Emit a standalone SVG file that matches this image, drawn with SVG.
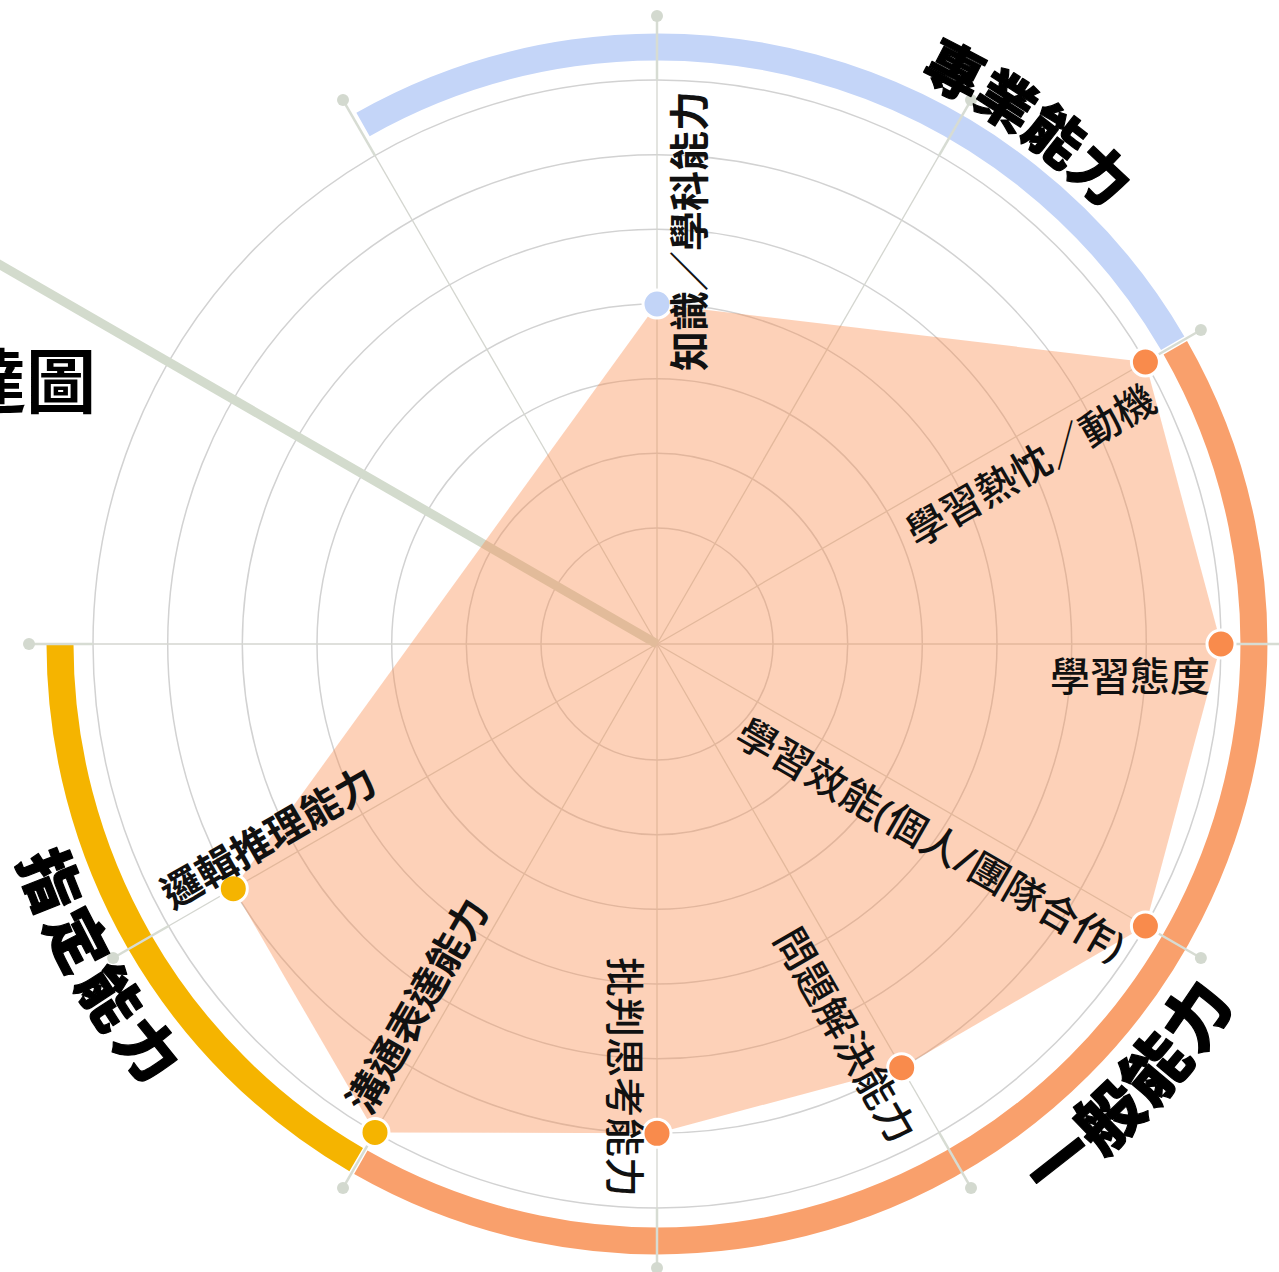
<svg xmlns="http://www.w3.org/2000/svg" width="1279" height="1272" viewBox="0 0 1279 1272">
<style>
.ring{fill:none;stroke:#d2d2d2;stroke-width:1.5}
.spoke{stroke:#d4d6d0;stroke-width:1.3}
.ext{stroke:#d7dcd3;stroke-width:2.5}
.end{fill:#d3d9cf}
.band{fill:none;stroke-width:27}
.dot{stroke:#ffffff;stroke-width:3}
.lbl{font-family:"Noto Sans","Noto Sans CJK TC","Noto Sans CJK SC",sans-serif;font-size:40px;fill:#111111}
.cat{font-family:"Noto Sans CJK TC","Noto Sans CJK SC",sans-serif;font-weight:900;fill:#000000;stroke:#000000;stroke-width:1.2;stroke-linejoin:round}
</style>
<defs>
<path id="p-zy" d="M 657 20 A 624 624 0 0 1 1281 644"/>
<path id="p-zd" d="M -17.1 644 A 674.1 674.1 0 0 0 657 1318.1"/>
<path id="p-yb" d="M 657 1323.1 A 679.1 679.1 0 0 0 1336.1 644"/>
</defs>
<rect width="1279" height="1272" fill="#ffffff"/>
<g id="grid">
<circle class="ring" cx="657" cy="644" r="116"/>
<circle class="ring" cx="657" cy="644" r="190.7"/>
<circle class="ring" cx="657" cy="644" r="265.3"/>
<circle class="ring" cx="657" cy="644" r="340"/>
<circle class="ring" cx="657" cy="644" r="414.7"/>
<circle class="ring" cx="657" cy="644" r="489.3"/>
<circle class="ring" cx="657" cy="644" r="564"/>
</g>
<g id="connectors">
<g id="spokes">
<line class="spoke" x1="657" y1="644" x2="657" y2="80"/>
<line class="spoke" x1="657" y1="644" x2="939" y2="155.6"/>
<line class="spoke" x1="657" y1="644" x2="1145.4" y2="362"/>
<line class="spoke" x1="657" y1="644" x2="1221" y2="644"/>
<line class="spoke" x1="657" y1="644" x2="1145.4" y2="926"/>
<line class="spoke" x1="657" y1="644" x2="939" y2="1132.4"/>
<line class="spoke" x1="657" y1="644" x2="657" y2="1208"/>
<line class="spoke" x1="657" y1="644" x2="375" y2="1132.4"/>
<line class="spoke" x1="657" y1="644" x2="168.6" y2="926"/>
<line class="spoke" x1="657" y1="644" x2="93" y2="644"/>
<line class="spoke" x1="657" y1="644" x2="168.6" y2="362"/>
<line class="spoke" x1="657" y1="644" x2="375" y2="155.6"/>
</g>
<line id="pointer" x1="657" y1="644" x2="-36" y2="244" stroke="#d3dbcd" stroke-width="9"/>
</g>
<g id="area">
<polygon points="657,304 1145.4,362 1221,644 1145.4,926 901.7,1067.7 657,1133.3 375,1132.4 233.3,888.7" fill="#f98c4e" fill-opacity="0.4"/>
</g>
<g id="bands">
<path id="band-zy" class="band" stroke="#c4d5f8" d="M 363 124.4 A 597 597 0 0 1 1172.7 343.2"/>
<path id="band-yb" class="band" stroke="#f9a06c" d="M 1175.3 347.8 A 597 597 0 0 1 360.8 1162.3"/>
<path id="band-zd" class="band" stroke="#f5b400" d="M 356.2 1159.7 A 597 597 0 0 1 60 644"/>
</g>
<g id="axis-ends">
<line class="ext" x1="657" y1="80" x2="657" y2="16"/>
<line class="ext" x1="939" y1="155.6" x2="971" y2="100.1"/>
<line class="ext" x1="1145.4" y1="362" x2="1200.9" y2="330"/>
<line class="ext" x1="1221" y1="644" x2="1285" y2="644"/>
<line class="ext" x1="1145.4" y1="926" x2="1200.9" y2="958"/>
<line class="ext" x1="939" y1="1132.4" x2="971" y2="1187.9"/>
<line class="ext" x1="657" y1="1208" x2="657" y2="1272"/>
<line class="ext" x1="375" y1="1132.4" x2="343" y2="1187.9"/>
<line class="ext" x1="168.6" y1="926" x2="113.1" y2="958"/>
<line class="ext" x1="93" y1="644" x2="29" y2="644"/>
<line class="ext" x1="375" y1="155.6" x2="343" y2="100.1"/>
<circle class="end" cx="657" cy="16" r="6"/>
<circle class="end" cx="971" cy="100.1" r="6"/>
<circle class="end" cx="1200.9" cy="330" r="6"/>
<circle class="end" cx="1200.9" cy="958" r="6"/>
<circle class="end" cx="971" cy="1187.9" r="6"/>
<circle class="end" cx="657" cy="1268" r="6"/>
<circle class="end" cx="343" cy="1187.9" r="6"/>
<circle class="end" cx="113.1" cy="958" r="6"/>
<circle class="end" cx="29" cy="644" r="6"/>
<circle class="end" cx="343" cy="100.1" r="6"/>
</g>
<g id="node-knowledge">
<circle class="dot" cx="657" cy="304" r="14" fill="#c2d4f7"/>
<text class="lbl" font-weight="700" transform="translate(657 644) rotate(-90)" x="553" y="47" text-anchor="end">知識／學科能力</text>
</g>
<g id="node-passion">
<circle class="dot" cx="1145.4" cy="362" r="14" fill="#f98b4c"/>
<text class="lbl" font-weight="500" transform="translate(657 644) rotate(-30)" x="553" y="47" text-anchor="end">學習熱忱／動機</text>
</g>
<g id="node-attitude">
<circle class="dot" cx="1221" cy="644" r="14" fill="#f98b4c"/>
<text class="lbl" font-weight="500" transform="translate(657 644)" x="553" y="47" text-anchor="end">學習態度</text>
</g>
<g id="node-efficacy">
<circle class="dot" cx="1145.4" cy="926" r="14" fill="#f98b4c"/>
<text class="lbl" font-weight="500" transform="translate(657 644) rotate(30)" x="555" y="47" text-anchor="end">學習效能(個人/團隊合作)</text>
</g>
<g id="node-problem">
<circle class="dot" cx="901.7" cy="1067.7" r="14" fill="#f98b4c"/>
<text class="lbl" font-weight="500" transform="translate(657 644) rotate(60)" x="553" y="47" text-anchor="end">問題解決能力</text>
</g>
<g id="node-critical">
<circle class="dot" cx="657" cy="1133.3" r="14" fill="#f98b4c"/>
<text class="lbl" font-weight="500" transform="translate(657 644) rotate(90)" x="553" y="47" text-anchor="end">批判思考能力</text>
</g>
<g id="node-communication">
<circle class="dot" cx="375" cy="1132.4" r="14" fill="#f5b400"/>
<text class="lbl" font-weight="700" transform="translate(657 644) rotate(-60)" x="-553" y="-12" text-anchor="start">溝通表達能力</text>
</g>
<g id="node-logic">
<circle class="dot" cx="233.3" cy="888.7" r="14" fill="#f5b400"/>
<text class="lbl" font-weight="700" transform="translate(657 644) rotate(-30)" x="-553" y="-12" text-anchor="start">邏輯推理能力</text>
</g>
<g id="categories">
<text class="cat" font-size="58" letter-spacing="0"><textPath href="#p-zy" startOffset="269.4">專業能力</textPath></text>
<text class="cat" font-size="61" letter-spacing="6.8"><textPath href="#p-zd" startOffset="220">指定能力</textPath></text>
<text class="cat" font-size="66" letter-spacing="3.9"><textPath href="#p-yb" startOffset="415">一般能力</textPath></text>
</g>
<g id="title">
<text x="96" y="408" text-anchor="end" font-family="Noto Sans CJK TC, Noto Sans CJK SC, sans-serif" font-size="70" font-weight="700" fill="#000000">達圖</text>
</g>
</svg>
